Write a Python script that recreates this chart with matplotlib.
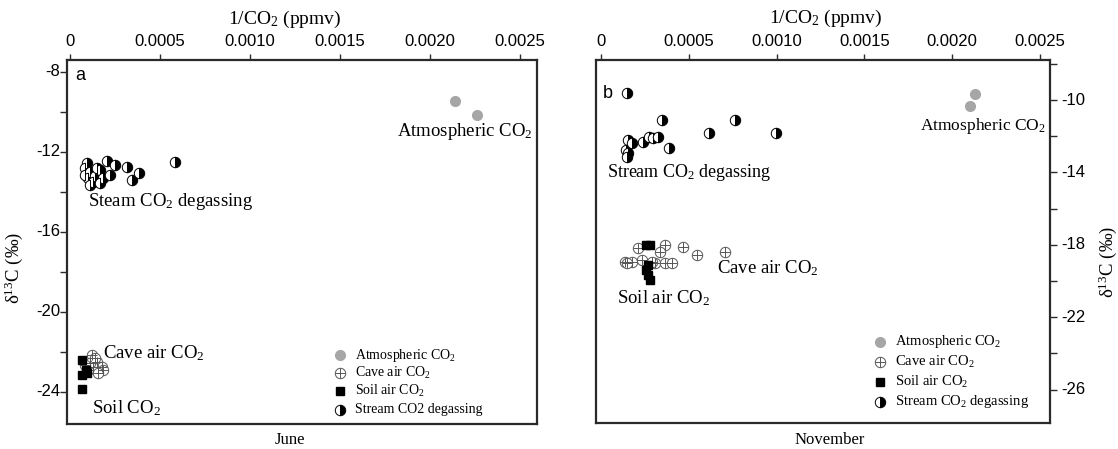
import matplotlib
matplotlib.use("Agg")
import matplotlib.pyplot as plt
from matplotlib.ticker import FixedLocator, FixedFormatter, MultipleLocator

plt.rcParams['font.family'] = ['Liberation Serif', 'DejaVu Serif']
plt.rcParams['mathtext.fontset'] = 'custom'
plt.rcParams['mathtext.rm'] = 'Liberation Serif'
plt.rcParams['mathtext.it'] = 'Liberation Serif:italic'

# ---------------- data: June (a) ----------------
june_atm_x = [0.00214, 0.00226]
june_atm_y = [-9.45, -10.15]
june_cave_x = [0.000122, 0.00015, 0.000178, 0.000183, 0.000128, 0.0001, 0.000156, 0.000111, 0.000139, 0.0000833]
june_cave_y = [-22.15, -22.5, -22.75, -22.9, -22.75, -22.9, -23.05, -22.55, -22.3, -22.65]
june_soil_x = [0.0000667, 0.0000667, 0.0000944, 0.0000667, 0.0000889]
june_soil_y = [-22.4, -23.15, -23.05, -23.85, -22.9]
june_stream_x = [0.0000944, 0.000206, 0.00025, 0.000317, 0.000583, 0.000383, 0.000344, 0.000222, 0.000167,
                 0.0000833, 0.000111, 0.000139, 0.0001, 0.000128, 0.00015, 0.0000833, 0.000183, 0.000167, 0.000111]
june_stream_y = [-12.55, -12.45, -12.65, -12.75, -12.5, -13.05, -13.4, -13.15, -12.9,
                 -12.8, -13.0, -13.2, -13.3, -13.5, -12.8, -13.15, -13.3, -13.55, -13.65]

# ---------------- data: November (b) ----------------
nov_atm_x = [0.00213, 0.00210]
nov_atm_y = [-9.67, -10.33]
nov_cave_x = [0.000211, 0.000364, 0.000467, 0.000547, 0.000706, 0.000137, 0.000177, 0.000233, 0.000308,
              0.000336, 0.000364, 0.000404, 0.00029, 0.000148]
nov_cave_y = [-18.18, -18.01, -18.12, -18.56, -18.40, -18.95, -18.95, -18.84, -19.01,
              -18.40, -19.01, -19.01, -18.95, -19.01]
nov_soil_x = [0.000256, 0.000279, 0.000268, 0.000256, 0.000268, 0.000279]
nov_soil_y = [-18.01, -18.01, -19.12, -19.39, -19.67, -19.94]
nov_stream_x = [0.000148, 0.000347, 0.000763, 0.000615, 0.000997, 0.000154, 0.000177, 0.000239, 0.000273,
                0.000296, 0.000325, 0.000387, 0.000142, 0.000154, 0.000148]
nov_stream_y = [-9.61, -11.10, -11.10, -11.82, -11.82, -12.21, -12.38, -12.32, -12.04,
                -12.10, -12.04, -12.65, -12.76, -12.93, -13.15]

x_ticks = [0, 0.0005, 0.0010, 0.0015, 0.0020, 0.0025]
x_ticklabels = ['0', '0.0005', '0.0010', '0.0015', '0.0020', '0.0025']
june_yticks = [-8, -12, -16, -20, -24]
nov_yticks = [-10, -14, -18, -22, -26]

W, H = 1118, 449
fig = plt.figure(figsize=(W / 100, H / 100), dpi=100)

def px_axes(l, r, t, b):
    return fig.add_axes([l / W, 1 - b / H, (r - l) / W, (b - t) / H])

TOP = 60
ax1 = px_axes(67, 537, TOP, 424)
ax2 = px_axes(596, 1050, TOP, 423)

SPINE = '#2a2a2a'
tick_font = dict(family='Liberation Sans', size=12)
STREAM_FILL = 'right'

def draw(ax, atm_x, atm_y, cave_x, cave_y, soil_x, soil_y, st_x, st_y):
    ax.plot(atm_x, atm_y, 'o', ms=7, color='#a6a6a6', mec='#a6a6a6', ls='none', zorder=3)
    ax.plot(st_x, st_y, 'o', ms=7.5, fillstyle=STREAM_FILL, mfc='black', mfcalt='white', mec='black',
            mew=0.7, ls='none', zorder=3)
    ax.plot(cave_x, cave_y, 'o', ms=7.5, mfc='white', mec='#555555', mew=0.7, ls='none', zorder=4)
    ax.plot(cave_x, cave_y, '+', ms=7.5, color='#555555', mew=0.7, ls='none', zorder=5)
    ax.plot(soil_x, soil_y, 's', ms=6, color='black', ls='none', zorder=6)
    for s in ax.spines.values():
        s.set_color(SPINE)
        s.set_linewidth(1.6)
    ax.xaxis.tick_top()
    ax.xaxis.set_major_locator(FixedLocator(x_ticks))
    ax.xaxis.set_major_formatter(FixedFormatter(x_ticklabels))
    ax.tick_params(axis='x', direction='out', length=4, width=1, colors=SPINE, labelcolor='black', pad=4)
    for lab in ax.get_xticklabels():
        lab.set_fontfamily('Liberation Sans')
        lab.set_fontsize(12)

def legend_block(ax, x_m, x_t, ys, labels, fs):
    kinds = ['atm', 'cave', 'soil', 'stream']
    for k, yy, lab in zip(kinds, ys, labels):
        if k == 'atm':
            ax.plot([x_m], [yy], 'o', ms=7, color='#a6a6a6', transform=ax.transAxes)
        elif k == 'cave':
            ax.plot([x_m], [yy], 'o', ms=7.5, mfc='white', mec='#555555', mew=0.7, transform=ax.transAxes)
            ax.plot([x_m], [yy], '+', ms=7.5, color='#555555', mew=0.7, transform=ax.transAxes)
        elif k == 'soil':
            ax.plot([x_m], [yy], 's', ms=6, color='black', transform=ax.transAxes)
        else:
            ax.plot([x_m], [yy], 'o', ms=7.5, fillstyle=STREAM_FILL, mfc='black', mfcalt='white', mec='black',
                    mew=0.7, transform=ax.transAxes)
        ax.text(x_t, yy, lab, transform=ax.transAxes, fontsize=fs, va='center', ha='left')

def fx(ax, px):
    p = ax.get_position()
    return (px - p.x0 * W) / (p.width * W)

def fy(ax, py):
    p = ax.get_position()
    return (H - py - p.y0 * H) / (p.height * H)

# ---- panel a ----
draw(ax1, june_atm_x, june_atm_y, june_cave_x, june_cave_y, june_soil_x, june_soil_y,
     june_stream_x, june_stream_y)
ax1.set_xlim(-3 / 180000, (537 - 70) / 180000)
ax1.set_ylim(-12 - (424 - 152) / 20, -12 + (152 - TOP) / 20)
ax1.yaxis.set_major_locator(MultipleLocator(2))
ax1.tick_params(axis='y', direction='out', length=5, width=1, colors=SPINE, labelleft=False)
for v in june_yticks:
    ax1.text(-0.015, v, str(v), transform=ax1.get_yaxis_transform(), ha='right', va='center', **tick_font)

ax1.text(fx(ax1, 75), fy(ax1, 76), 'a', transform=ax1.transAxes, fontsize=13, ha='left', va='center',
         family='Liberation Sans')
ax1.text(fx(ax1, 465), fy(ax1, 132), 'Atmospheric CO$_2$', transform=ax1.transAxes, fontsize=13.5,
         ha='center', va='center')
ax1.text(fx(ax1, 88), fy(ax1, 202), 'Steam CO$_2$ degassing', transform=ax1.transAxes, fontsize=13.5,
         ha='left', va='center')
ax1.text(fx(ax1, 103), fy(ax1, 353), 'Cave air CO$_2$', transform=ax1.transAxes, fontsize=13.5,
         ha='left', va='center')
ax1.text(fx(ax1, 92), fy(ax1, 408), 'Soil CO$_2$', transform=ax1.transAxes, fontsize=13.5,
         ha='left', va='center')
legend_block(ax1, fx(ax1, 340), fx(ax1, 355), [fy(ax1, p) for p in (355, 373, 391, 410)],
             ['Atmospheric CO$_2$', 'Cave air CO$_2$', 'Soil air CO$_2$', 'Stream CO2 degassing'], 10)

# ---- panel b ----
draw(ax2, nov_atm_x, nov_atm_y, nov_cave_x, nov_cave_y, nov_soil_x, nov_soil_y,
     nov_stream_x, nov_stream_y)
ax2.set_xlim(-5 / 175600, (1050 - 601) / 175600)
ax2.set_ylim(-10 - (423 - 100) / 18.1, -10 + (100 - TOP) / 18.1)
ax2.yaxis.tick_right()
ax2.yaxis.set_major_locator(MultipleLocator(2))
ax2.tick_params(axis='y', direction='out', length=5, width=1, colors=SPINE, labelright=False, labelleft=False)
for v in nov_yticks:
    ax2.text(1.025, v, str(v), transform=ax2.get_yaxis_transform(), ha='left', va='center', **tick_font)

ax2.text(fx(ax2, 603), fy(ax2, 93), 'b', transform=ax2.transAxes, fontsize=13, ha='left', va='center',
         family='Liberation Sans')
ax2.text(fx(ax2, 983), fy(ax2, 126), 'Atmospheric CO$_2$', transform=ax2.transAxes, fontsize=12.5,
         ha='center', va='center')
ax2.text(fx(ax2, 607), fy(ax2, 172), 'Stream CO$_2$ degassing', transform=ax2.transAxes, fontsize=13,
         ha='left', va='center')
ax2.text(fx(ax2, 717), fy(ax2, 268), 'Cave air CO$_2$', transform=ax2.transAxes, fontsize=13.5,
         ha='left', va='center')
ax2.text(fx(ax2, 617), fy(ax2, 298), 'Soil air CO$_2$', transform=ax2.transAxes, fontsize=13.5,
         ha='left', va='center')
legend_block(ax2, fx(ax2, 880), fx(ax2, 895), [fy(ax2, p) for p in (342, 362, 382, 402)],
             ['Atmospheric CO$_2$', 'Cave air CO$_2$', 'Soil air CO$_2$', 'Stream CO$_2$ degassing'], 10.5)

# axis titles
fig.text(285 / W, 1 - 19 / H, '1/CO$_2$ (ppmv)', ha='center', va='center', fontsize=14)
fig.text(826 / W, 1 - 18 / H, '1/CO$_2$ (ppmv)', ha='center', va='center', fontsize=14)
fig.text(14 / W, 1 - 268 / H, 'δ$^{13}$C (‰)', rotation=90, ha='center', va='center', fontsize=13.5)
fig.text(1108 / W, 1 - 262 / H, 'δ$^{13}$C (‰)', rotation=90, ha='center', va='center', fontsize=13.5)
fig.text(290 / W, 1 - 440 / H, 'June', ha='center', va='center', fontsize=12)
fig.text(830 / W, 1 - 440 / H, 'November', ha='center', va='center', fontsize=12)

fig.savefig('out.png', dpi=100)
